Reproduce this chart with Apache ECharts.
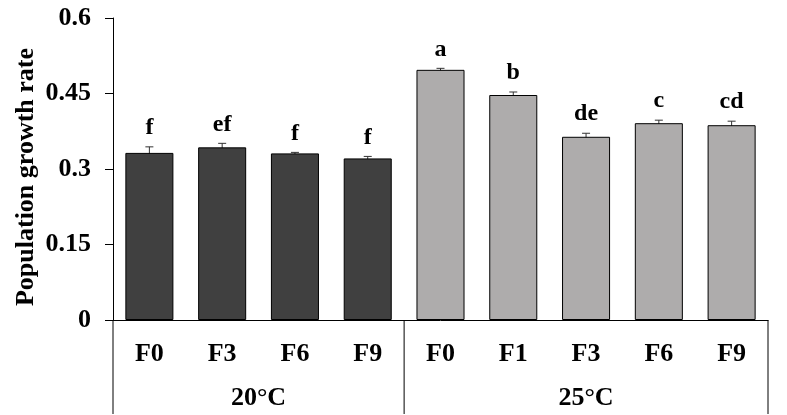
<!DOCTYPE html>
<html>
<head>
<meta charset="utf-8">
<script src="https://cdn.jsdelivr.net/npm/echarts@6/dist/echarts.min.js"></script>
<style>html,body{margin:0;padding:0;background:#fff}#c{width:787px;height:415px}</style>
</head>
<body>
<div id="c"></div>
<script>
const categories = ['F0','F3','F6','F9','F0','F1','F3','F6','F9'];
const groups = ['20°C','25°C'];
const groupSizes = [4,5];
const rates = [0.332,0.343,0.331,0.321,0.497,0.447,0.364,0.391,0.387];
const errors = [0.012,0.008,0.002,0.004,0.003,0.006,0.007,0.006,0.008];
const letters = ['f','ef','f','f','a','b','de','c','cd'];
const yTicks = [0,0.15,0.3,0.45,0.6];
const groupColors = ['#404040','#aeacac'];

const FONT = '"Liberation Serif","Times New Roman",serif';

// group index of each category
const catGroup = [];
groupSizes.forEach((n,g)=>{for(let k=0;k<n;k++)catGroup.push(g);});
const groupStarts = [];
groupSizes.reduce((s,n)=>{groupStarts.push(s);return s+n;},0);

const chart = echarts.init(document.getElementById('c'), null, {renderer:'canvas'});
chart.setOption({
  animation:false,
  grid:{left:113,right:19,top:18,bottom:95,containLabel:false},
  xAxis:{
    type:'category',
    data:categories,
    axisLine:{show:true,lineStyle:{color:'#000',width:1}},
    axisTick:{show:false},
    axisLabel:{color:'#000',fontFamily:FONT,fontWeight:'bold',fontSize:26,margin:21}
  },
  yAxis:{
    type:'value',
    min:yTicks[0],max:yTicks[yTicks.length-1],interval:yTicks[1]-yTicks[0],
    name:'Population growth rate',
    nameLocation:'middle',
    nameGap:74,
    nameMoveOverlap:false,
    nameTextStyle:{color:'#000',fontFamily:FONT,fontWeight:'bold',fontSize:26,padding:[0,16,0,0]},
    axisLine:{show:true,lineStyle:{color:'#000',width:1}},
    axisTick:{show:true,inside:false,length:8,lineStyle:{color:'#000'}},
    axisLabel:{color:'#000',fontFamily:FONT,fontWeight:'bold',fontSize:26,margin:22,
      formatter:v=>String(v)},
    splitLine:{show:false}
  },
  series:[
    {
      type:'bar',
      barCategoryGap:'34%',
      data:rates.map((v,i)=>({value:v,itemStyle:{color:groupColors[catGroup[i]],borderColor:'#000',borderWidth:1}})),
      silent:true
    },
    {
      type:'custom',
      clip:false,
      silent:true,
      data:rates.map((v,i)=>[i,v,errors[i]]),
      encode:{x:0,y:1},
      renderItem:function(params,api){
        const i=api.value(0),v=api.value(1),e=api.value(2);
        const top=api.coord([i,v+e]);
        const bot=api.coord([i,v-e]);
        const x=top[0];
        const cap=4;
        return {type:'group',children:[
          {type:'line',shape:{x1:x,y1:top[1],x2:x,y2:bot[1]},style:{stroke:'#333',lineWidth:1}},
          {type:'line',shape:{x1:x-cap,y1:top[1],x2:x+cap,y2:top[1]},style:{stroke:'#333',lineWidth:1}},
          {type:'line',shape:{x1:x-cap,y1:bot[1],x2:x+cap,y2:bot[1]},style:{stroke:'#333',lineWidth:1}},
          {type:'text',style:{text:letters[params.dataIndex],x:x,y:top[1]-7,align:'center',verticalAlign:'bottom',
            fill:'#000',font:'bold 24px '+FONT}}
        ]};
      }
    },
    {
      type:'custom',
      clip:false,
      silent:true,
      data:groups.map((g,k)=>[groupStarts[k],0,groupSizes[k]]),
      encode:{x:0,y:1},
      renderItem:function(params,api){
        const s=api.value(0),n=api.value(2);
        const bw=api.size([1,0])[0];
        const p0=api.coord([s,0]);
        const p1=api.coord([s+n-1,0]);
        const left=p0[0]-bw/2, right=p1[0]+bw/2, y0=p0[1];
        const children=[
          {type:'line',shape:{x1:left,y1:y0,x2:left,y2:y0+94},style:{stroke:'#000',lineWidth:1}},
          {type:'text',style:{text:groups[params.dataIndex],x:(left+right)/2,y:y0+78,align:'center',verticalAlign:'middle',
            fill:'#000',font:'bold 26px '+FONT}}
        ];
        if(params.dataIndex===groups.length-1){
          children.push({type:'line',shape:{x1:right,y1:y0,x2:right,y2:y0+94},style:{stroke:'#000',lineWidth:1}});
        }
        return {type:'group',children};
      }
    }
  ]
});
</script>
</body>
</html>
